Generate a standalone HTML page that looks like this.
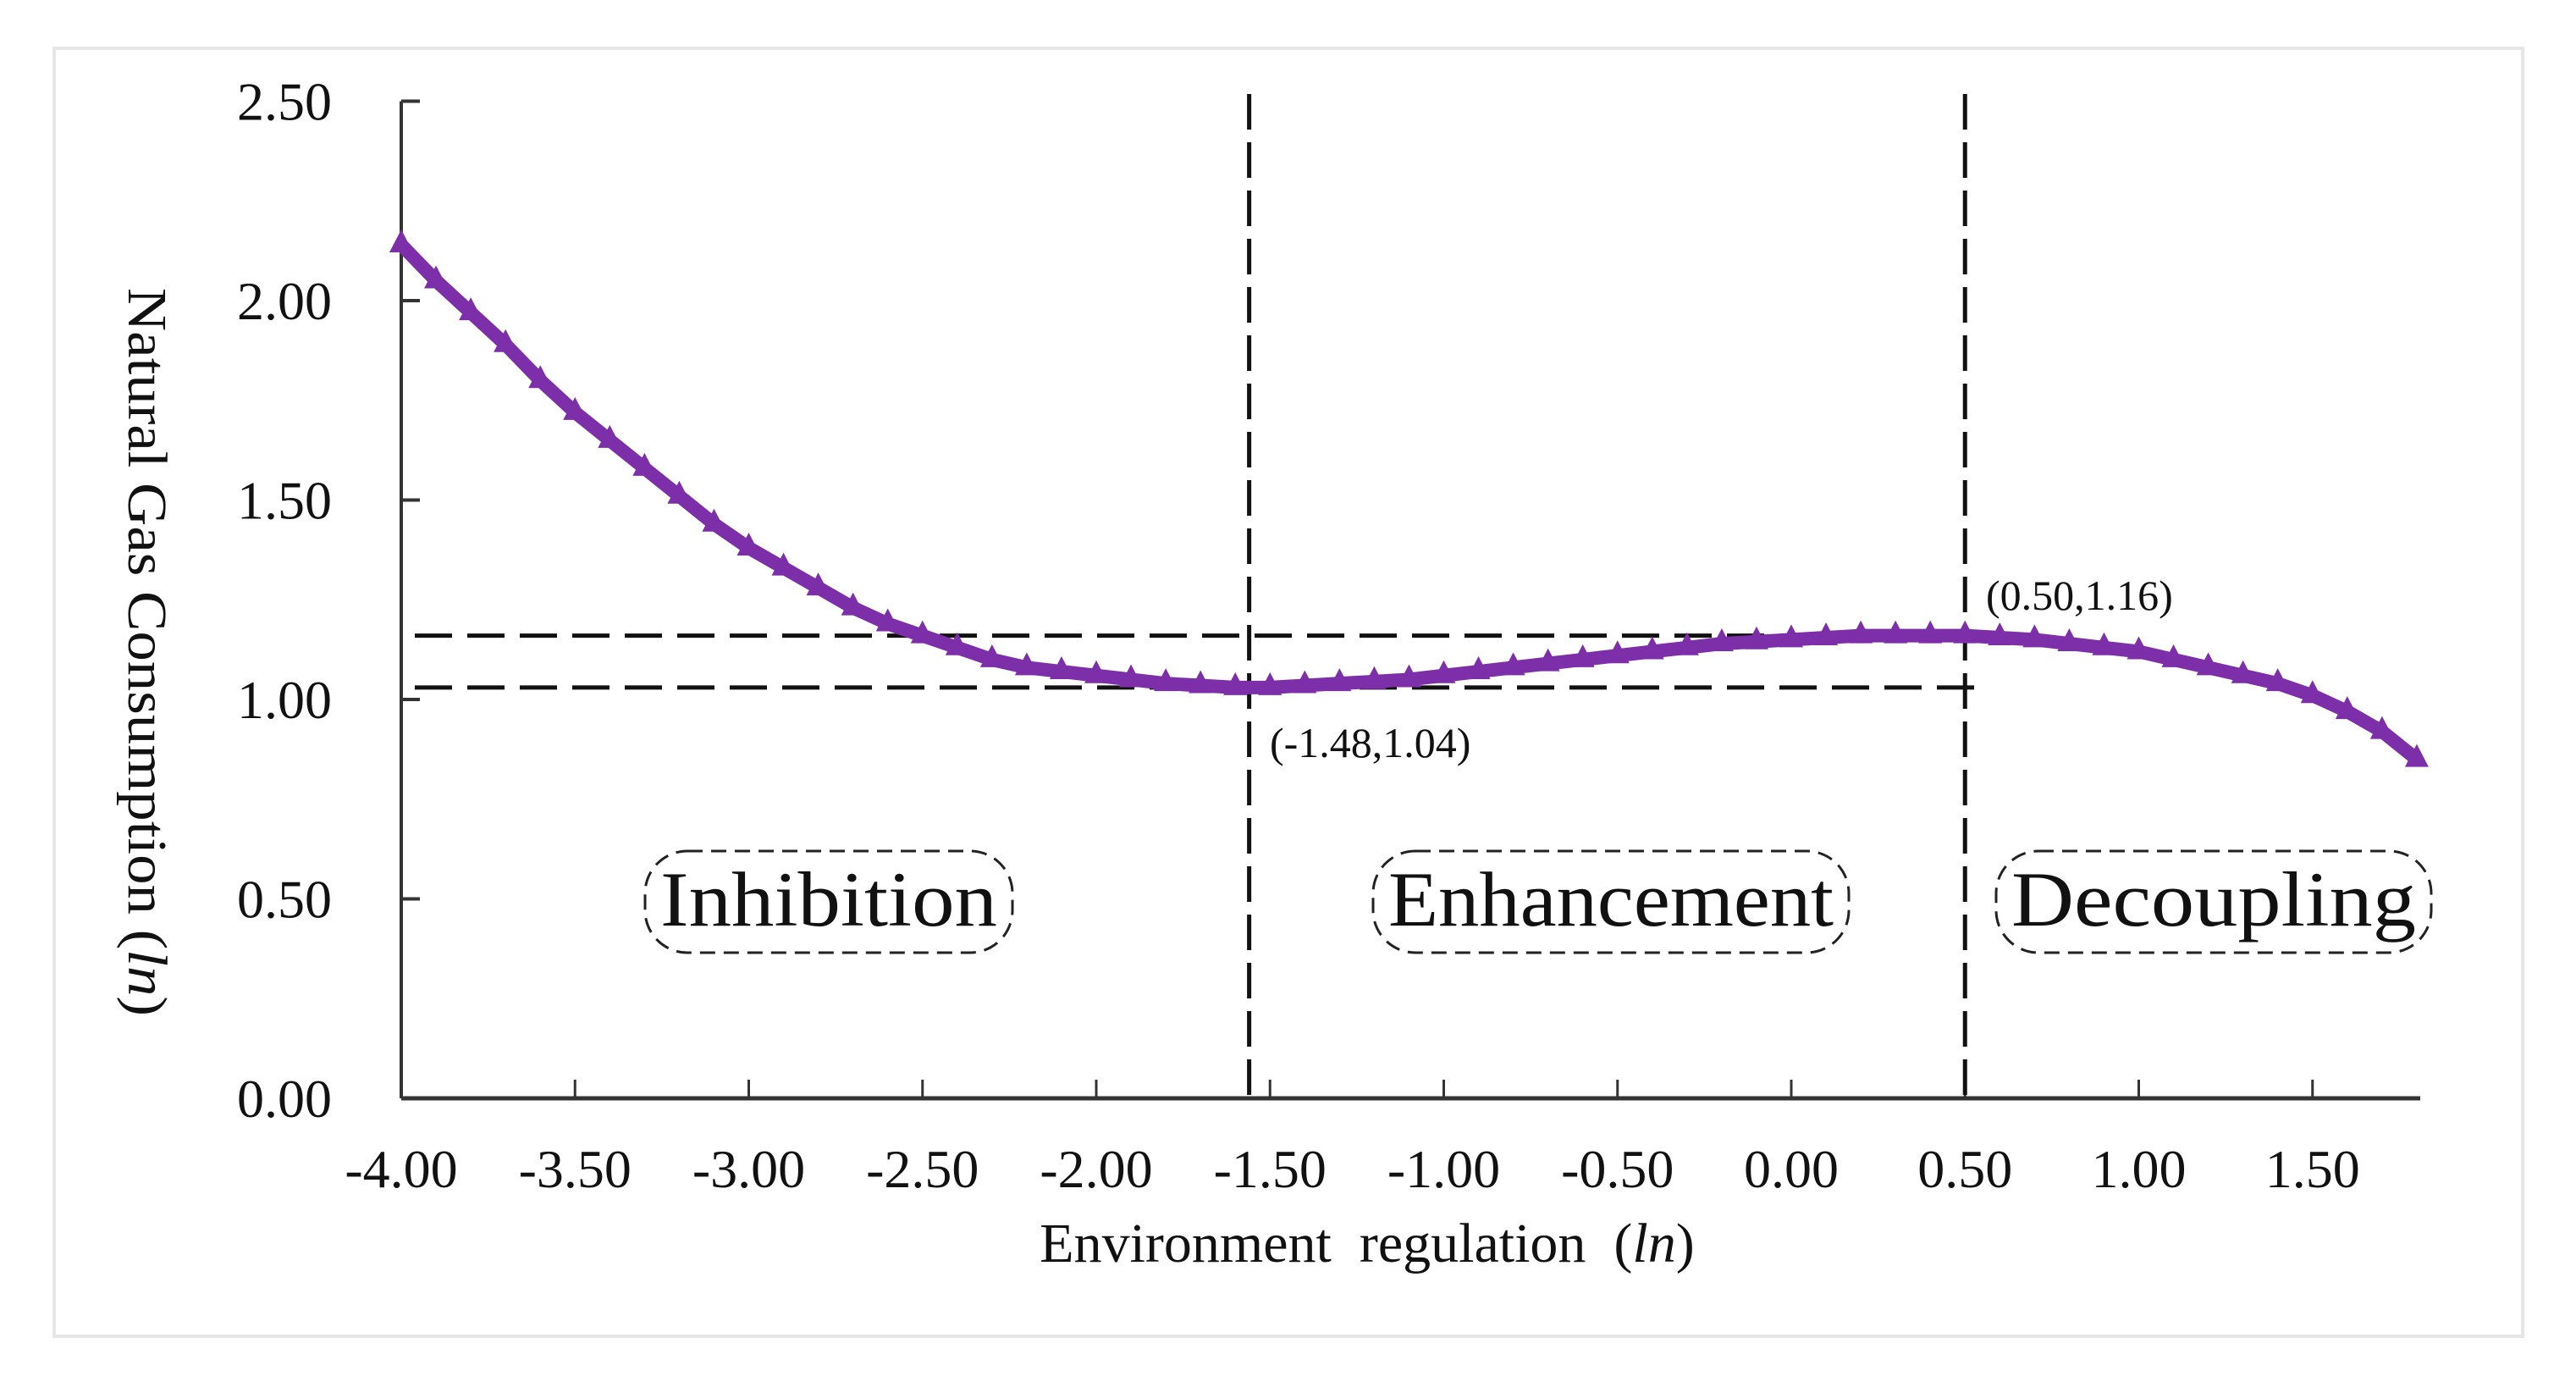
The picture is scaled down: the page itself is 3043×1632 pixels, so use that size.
<!DOCTYPE html>
<html><head><meta charset="utf-8"><style>
html,body{margin:0;padding:0;background:#fff;}
svg{display:block;}
text{font-family:"Liberation Serif",serif;fill:#111;}
</style></head><body>
<svg id="chart" width="3043" height="1632" viewBox="0 0 3043 1632">
<rect x="64" y="57" width="2916" height="1521" fill="#fff" stroke="#e6e6e6" stroke-width="4"/>
<g id="axes"></g>
<g id="guides"></g>
<g id="series"></g>
<g id="labels"></g>
</svg>
<script>
const xTicks = [-4.0,-3.5,-3.0,-2.5,-2.0,-1.5,-1.0,-0.5,0.0,0.5,1.0,1.5];
const xTickLabels = ["-4.00","-3.50","-3.00","-2.50","-2.00","-1.50","-1.00","-0.50","0.00","0.50","1.00","1.50"];
const yTicks = [0,0.5,1.0,1.5,2.0,2.5];
const yTickLabels = ["0.00","0.50","1.00","1.50","2.00","2.50"];
const seriesX = [-4.0,-3.9,-3.8,-3.7,-3.6,-3.5,-3.4,-3.3,-3.2,-3.1,-3.0,-2.9,-2.8,-2.7,-2.6,-2.5,-2.4,-2.3,-2.2,-2.1,-2.0,-1.9,-1.8,-1.7,-1.6,-1.5,-1.4,-1.3,-1.2,-1.1,-1.0,-0.9,-0.8,-0.7,-0.6,-0.5,-0.4,-0.3,-0.2,-0.1,0.0,0.1,0.2,0.3,0.4,0.5,0.6,0.7,0.8,0.9,1.0,1.1,1.2,1.3,1.4,1.5,1.6,1.7,1.8];
const seriesY = [2.14,2.05,1.97,1.89,1.80,1.72,1.65,1.58,1.51,1.44,1.38,1.33,1.28,1.23,1.19,1.16,1.13,1.10,1.08,1.07,1.06,1.05,1.04,1.035,1.03,1.03,1.035,1.04,1.045,1.05,1.06,1.07,1.08,1.09,1.10,1.11,1.12,1.13,1.14,1.145,1.15,1.155,1.16,1.16,1.16,1.16,1.155,1.15,1.14,1.13,1.12,1.10,1.08,1.06,1.04,1.01,0.97,0.92,0.85];
const guideX = [-1.56, 0.50];
const guideY = [1.16, 1.03];

const NS = "http://www.w3.org/2000/svg";
const X0 = 474, XS = 410.5, Y0 = 1297, YS = 471;
const xPx = v => X0 + (v + 4) * XS;
const yPx = v => Y0 - v * YS;
function mk(tag, attrs, parent, txt) {
  const e = document.createElementNS(NS, tag);
  for (const k in attrs) e.setAttribute(k, attrs[k]);
  if (txt !== undefined) e.textContent = txt;
  parent.appendChild(e);
  return e;
}
const axes = document.getElementById('axes');
const guides = document.getElementById('guides');
const series = document.getElementById('series');
const labels = document.getElementById('labels');

let el = mk('line', {x1: X0, y1: yPx(2.5), x2: X0, y2: Y0, stroke: '#333', 'stroke-width': 4}, axes);


el = mk('line', {x1: X0, y1: Y0, x2: xPx(1.81), y2: Y0, stroke: '#333', 'stroke-width': 5}, axes);


yTicks.forEach((t, i) => {
  const tk = mk('line', {x1: X0, y1: yPx(t), x2: X0 + 22, y2: yPx(t), stroke: '#333', 'stroke-width': 4}, axes);
  
  
  const lb = mk('text', {x: 392, y: yPx(t) + 22, 'text-anchor': 'end', 'font-size': 64}, axes, yTickLabels[i]);
  
  
});
xTicks.forEach((t, i) => {
  if (i > 0) {
    const tk = mk('line', {x1: xPx(t), y1: Y0 - 22, x2: xPx(t), y2: Y0, stroke: '#333', 'stroke-width': 3}, axes);
    
    
  }
  const lb = mk('text', {x: xPx(t), y: 1402, 'text-anchor': 'middle', 'font-size': 64}, axes, xTickLabels[i]);
  
  
});

guideX.forEach(g => {
  const l = mk('line', {x1: xPx(g), y1: 111, x2: xPx(g), y2: Y0, stroke: '#111', 'stroke-width': 5, 'stroke-dasharray': '42 15'}, guides);
  
  
});
guideY.forEach(g => {
  const l = mk('line', {x1: X0 + 16, y1: yPx(g), x2: xPx(0.55), y2: yPx(g), stroke: '#111', 'stroke-width': 5, 'stroke-dasharray': '44 18'}, guides);
  
  
});

const pts = seriesX.map((x, i) => xPx(x) + ',' + yPx(seriesY[i])).join(' ');
el = mk('polyline', {points: pts, fill: 'none', stroke: '#7d2fa9', 'stroke-width': 16, 'stroke-linejoin': 'round'}, series);


seriesX.forEach((x, i) => {
  const cx = xPx(x), cy = yPx(seriesY[i]);
  const t = mk('polygon', {points: `${cx},${cy - 18} ${cx - 14},${cy + 9} ${cx + 14},${cy + 9}`, fill: '#7d2fa9'}, series);
  
  
});

el = mk('text', {x: 0, y: 0, 'font-size': 66, 'text-anchor': 'middle', textLength: 860, lengthAdjust: 'spacingAndGlyphs', transform: 'translate(152,770) rotate(90)'}, labels);


el.innerHTML = 'Natural Gas Consumption (<tspan font-style="italic">ln</tspan>)';
el = mk('text', {x: 1615, y: 1490, 'font-size': 66, 'text-anchor': 'middle'}, labels);


el.innerHTML = 'Environment&#160;&#160;regulation&#160;&#160;(<tspan font-style="italic">ln</tspan>)';
el = mk('text', {x: 1500, y: 894, 'font-size': 50}, labels, '(-1.48,1.04)');


el = mk('text', {x: 2346, y: 720, 'font-size': 50}, labels, '(0.50,1.16)');



const regions = [
  ['Inhibition', 762, 1196, 'inhibition-region-label'],
  ['Enhancement', 1622, 2184, 'enhancement-region-label'],
  ['Decoupling', 2358, 2872, 'decoupling-region-label']
];
regions.forEach(r => {
  const b = mk('rect', {x: r[1], y: 1005, width: r[2] - r[1], height: 120, rx: 50, ry: 50, fill: 'none', stroke: '#222', 'stroke-width': 3, 'stroke-dasharray': '18 10'}, labels);
  
  
  const t = mk('text', {x: (r[1] + r[2]) / 2, y: 1093, 'font-size': 92, 'text-anchor': 'middle', textLength: r[2] - r[1] - 36, lengthAdjust: 'spacingAndGlyphs'}, labels, r[0]);
  
  
});
</script>
</body></html>
